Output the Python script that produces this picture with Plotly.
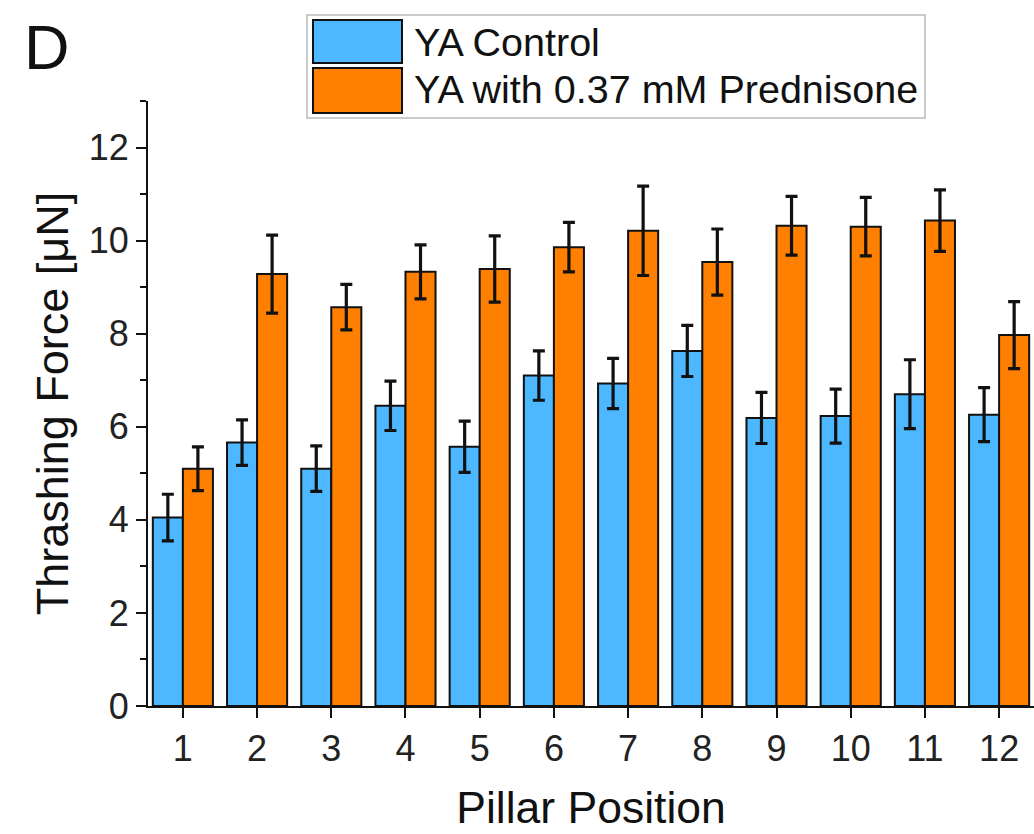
import plotly.graph_objects as go

positions = [1, 2, 3, 4, 5, 6, 7, 8, 9, 10, 11, 12]
control_vals = [4.05, 5.66, 5.10, 6.45, 5.57, 7.10, 6.93, 7.63, 6.19, 6.23, 6.70, 6.26]
control_err = [0.50, 0.49, 0.49, 0.53, 0.55, 0.53, 0.54, 0.55, 0.55, 0.58, 0.74, 0.58]
pred_vals = [5.10, 9.28, 8.57, 9.33, 9.39, 9.86, 10.21, 9.54, 10.32, 10.30, 10.43, 7.97]
pred_err = [0.47, 0.84, 0.49, 0.58, 0.71, 0.53, 0.96, 0.71, 0.63, 0.63, 0.66, 0.72]
series_names = ["YA Control", "YA with 0.37 mM Prednisone"]
colors = ["#4DB8FF", "#FF8000"]

W, H = 1034, 834
L, R, T, B = 148, 0, 101, 128
FONT = "Liberation Sans, Arial, sans-serif"


def px(x):
    return (x - L) / (W - L - R)


def py(y):
    return (H - B - y) / (H - T - B)


fig = go.Figure()
for name, vals, errs, col in [
    (series_names[0], control_vals, control_err, colors[0]),
    (series_names[1], pred_vals, pred_err, colors[1]),
]:
    fig.add_trace(go.Bar(
        x=positions, y=vals, name=name,
        marker=dict(color=col, line=dict(color="#111111", width=2)),
        error_y=dict(type="data", array=errs, visible=True,
                     color="#111111", thickness=3.2, width=6),
        showlegend=False,
    ))

shapes = []
annotations = []
# legend box
shapes.append(dict(type="rect", xref="paper", yref="paper",
                   x0=px(307), x1=px(925), y0=py(118), y1=py(15),
                   line=dict(color="#BBBBBB", width=1.5), fillcolor="white", layer="above"))
rows = [(20, 63, 42), (68, 113, 89)]
for (y0, y1, yc), name, col in zip(rows, series_names, colors):
    shapes.append(dict(type="rect", xref="paper", yref="paper",
                       x0=px(313), x1=px(402), y0=py(y1), y1=py(y0),
                       line=dict(color="#111111", width=2), fillcolor=col, layer="above"))
    annotations.append(dict(xref="paper", yref="paper", x=px(412), y=py(yc),
                            text=name, showarrow=False, xanchor="left", yanchor="middle",
                            font=dict(family=FONT, size=39.5, color="#111111")))
annotations.append(dict(xref="paper", yref="paper", x=px(22), y=py(47),
                        text="D", showarrow=False, xanchor="left", yanchor="middle",
                        font=dict(family=FONT, size=63, color="#111111")))

fig.update_layout(
    width=W, height=H,
    margin=dict(l=L, r=R, t=T, b=B),
    paper_bgcolor="white", plot_bgcolor="white",
    barmode="group", bargap=0.19, bargroupgap=0,
    font=dict(family=FONT, color="#111111"),
    shapes=shapes, annotations=annotations,
    xaxis=dict(
        range=[0.53, 12.47], tickmode="array", tickvals=positions,
        ticktext=[str(p) for p in positions],
        showline=True, linecolor="#111111", linewidth=2,
        ticks="outside", ticklen=10, tickwidth=2, tickcolor="#111111",
        showgrid=False, zeroline=False,
        tickfont=dict(family=FONT, size=36, color="#222222"),
        title=dict(text="Pillar Position", font=dict(family=FONT, size=44.5, color="#111111"), standoff=24),
    ),
    yaxis=dict(
        range=[0, 13], tickmode="linear", tick0=0, dtick=2,
        showline=True, linecolor="#111111", linewidth=2,
        ticks="outside", ticklen=10, tickwidth=2, tickcolor="#111111",
        minor=dict(dtick=1, ticks="outside", ticklen=6, tickwidth=2, tickcolor="#111111"),
        showgrid=False, zeroline=False,
        tickfont=dict(family=FONT, size=36, color="#222222"),
        title=dict(text="Thrashing Force [μN]", font=dict(family=FONT, size=45, color="#111111"), standoff=6),
    ),
)

fig.write_html("out.html", config={"displayModeBar": False})
